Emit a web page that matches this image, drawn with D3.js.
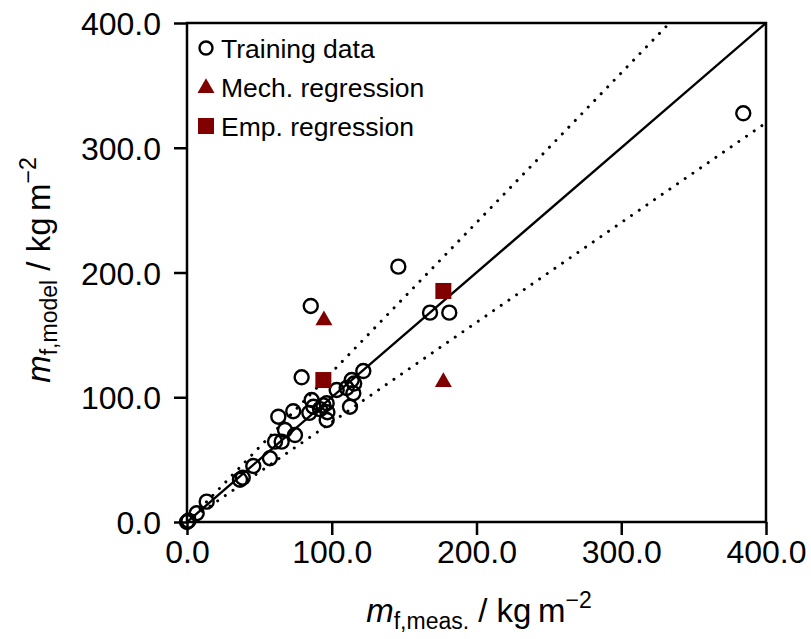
<html>
<head>
<script src="https://cdnjs.cloudflare.com/ajax/libs/d3/7.8.5/d3.min.js"></script>
<style>
  * { margin: 0; padding: 0; }
  body { background: #fff; }
  text { font-family: "Liberation Sans", Arial, Helvetica, sans-serif; }
</style>
</head>
<body>
<svg id="viz"></svg>
<script>
    // training data
    var trainX = [0, 1, 6.7, 13.6, 36.6, 38.5, 45.8, 57.3, 60.8, 65.4, 67.7, 74.6, 63.1, 73.4,
                  84.5, 86.1, 87.3, 91.9, 94.2, 96.5, 96.5, 97.0, 103.4, 110.3, 114.9, 113.8,
                  115.5, 121.8, 112.6, 79.2, 85.5, 146.0, 167.9, 181.2, 384.3];
    var trainY = [0, 1, 7.0, 16.3, 33.9, 35.5, 44.9, 51.1, 64.4, 64.4, 73.7, 69.7, 84.4, 88.8,
                  87.5, 97.8, 92.4, 90.5, 93.5, 95.2, 81.8, 88.0, 105.8, 107.4, 103.2, 113.8,
                  111.0, 121.0, 92.4, 116.0, 173.2, 204.7, 167.8, 167.8, 327.6];
    var mechX = [94.6, 177.1];
    var mechY = [162.5, 113.0];
    var empX = [94.2, 177.1];
    var empY = [113.8, 185.2];
    var xTicks = [0, 100, 200, 300, 400];
    var yTicks = [0, 100, 200, 300, 400];
    var legendLabels = ["Training data", "Mech. regression", "Emp. regression"];

    var W = 811, H = 639;
    var pLeft = 187, pRight = 766, pTop = 23, pBottom = 522;
    var red = "#800000";

    var svg = d3.select("#viz").attr("width", W).attr("height", H);

    var x = d3.scaleLinear().domain([0, 400]).range([pLeft, pRight]);
    var y = d3.scaleLinear().domain([0, 400]).range([pBottom, pTop]);

    svg.append("clipPath").attr("id", "clip")
        .append("rect")
        .attr("x", pLeft).attr("y", pTop)
        .attr("width", pRight - pLeft).attr("height", pBottom - pTop);

    // reference lines: 1:1 and +/- 20 %
    var line = d3.line().x(d => x(d[0])).y(d => y(d[1]));
    var g = svg.append("g").attr("clip-path", "url(#clip)");
    g.append("path")
        .attr("d", line([[0, 0], [400, 400]]))
        .attr("stroke", "black").attr("stroke-width", 2.4).attr("fill", "none");
    [1.2, 0.8].forEach(function (k) {
        g.append("path")
            .attr("d", line([[0, 0], [400, 400 * k]]))
            .attr("stroke", "black").attr("stroke-width", 3)
            .attr("stroke-linecap", "round")
            .attr("stroke-dasharray", "0.01,9.3")
            .attr("fill", "none");
    });

    // frame
    svg.append("rect")
        .attr("x", pLeft).attr("y", pTop)
        .attr("width", pRight - pLeft).attr("height", pBottom - pTop)
        .attr("fill", "none").attr("stroke", "black").attr("stroke-width", 2.5);

    // axes
    var fmt = d3.format(".1f");
    var xAxis = svg.append("g")
        .attr("transform", "translate(0," + pBottom + ")")
        .call(d3.axisBottom(x).tickValues(xTicks).tickFormat(fmt).tickSize(13).tickPadding(5));
    var yAxis = svg.append("g")
        .attr("transform", "translate(" + pLeft + ",0)")
        .call(d3.axisLeft(y).tickValues(yTicks).tickFormat(fmt).tickSize(13).tickPadding(13));
    [xAxis, yAxis].forEach(function (a) {
        a.select(".domain").remove();
        a.selectAll("line").attr("stroke", "black").attr("stroke-width", 2.5);
        a.selectAll("text").attr("fill", "black")
            .style("font-size", "32px").style("font-family", "'Liberation Sans', Arial, sans-serif");
    });
    yAxis.selectAll("text").attr("dy", "0.36em");

    // training data circles
    svg.append("g").selectAll("circle")
        .data(trainX)
        .join("circle")
        .attr("cx", (d, i) => x(trainX[i]))
        .attr("cy", (d, i) => y(trainY[i]))
        .attr("r", 7)
        .attr("fill", "none")
        .attr("stroke", "black")
        .attr("stroke-width", 2.4);

    var tri = d3.symbol().type(d3.symbolTriangle).size(125);
    svg.append("g").selectAll("path")
        .data(mechX)
        .join("path")
        .attr("d", tri)
        .attr("transform", (d, i) => "translate(" + x(mechX[i]) + "," + (y(mechY[i]) + 1) + ")")
        .attr("fill", red);

    svg.append("g").selectAll("rect")
        .data(empX)
        .join("rect")
        .attr("x", (d, i) => x(empX[i]) - 8)
        .attr("y", (d, i) => y(empY[i]) - 8)
        .attr("width", 16).attr("height", 16)
        .attr("fill", red);

    // legend
    var leg = svg.append("g");
    var lx = 206, ly0 = 48, dly = 39;
    leg.append("circle").attr("cx", lx).attr("cy", ly0).attr("r", 6.5)
        .attr("fill", "none").attr("stroke", "black").attr("stroke-width", 2.4);
    leg.append("path").attr("d", tri)
        .attr("transform", "translate(" + lx + "," + (ly0 + dly + 1) + ")").attr("fill", red);
    leg.append("rect").attr("x", lx - 8).attr("y", ly0 + 2 * dly - 8)
        .attr("width", 16).attr("height", 16).attr("fill", red);
    leg.selectAll("text")
        .data(legendLabels)
        .join("text")
        .attr("x", 221)
        .attr("y", (d, i) => ly0 + i * dly)
        .attr("dy", "0.36em")
        .style("font-size", "26.5px")
        .text(d => d);

    // axis labels
    function axisLabel(sel, sub) {
        sel.style("font-size", "33px").attr("text-anchor", "middle");
        sel.append("tspan").style("font-style", "italic").text("m");
        sel.append("tspan").attr("dy", 7).style("font-size", "23px").text(sub);
        sel.append("tspan").attr("dy", -7).text(" / kg\u2009m");
        sel.append("tspan").attr("dy", -14).style("font-size", "23px").text("\u22122");
    }
    axisLabel(svg.append("text").attr("x", 479).attr("y", 622), "f,meas.");
    axisLabel(svg.append("text")
        .attr("transform", "translate(50,270) rotate(-90)"), "f,model");
</script>
</body>
</html>
